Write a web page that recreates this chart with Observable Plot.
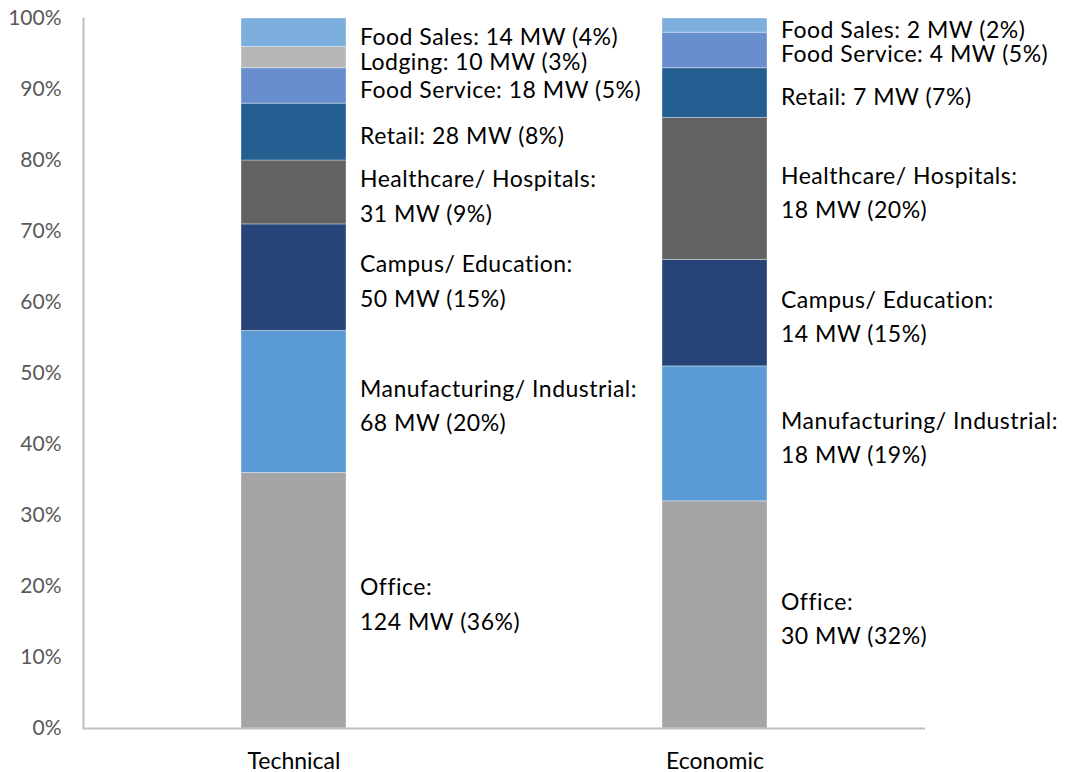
<!DOCTYPE html>
<html>
<head>
<meta charset="utf-8">
<script src="https://cdn.jsdelivr.net/npm/d3@7"></script>
<script src="https://cdn.jsdelivr.net/npm/@observablehq/plot@0.6"></script>
<style>
  html, body { margin: 0; padding: 0; background: #fff; }
  svg { display: block; }
  .seg-label text { letter-spacing: 0.5px; }
</style>
</head>
<body>
<div id="chart"></div>
<script>
// Scenarios (x categories)
const scenarios = ["Technical", "Economic"];
// Sectors, bottom to top
const sectors = ["Office", "Manufacturing/ Industrial", "Campus/ Education", "Healthcare/ Hospitals", "Retail", "Food Service", "Lodging", "Food Sales"];
// Whether a sector's label is broken over two lines
const twoLine = [true, true, true, true, false, false, false, false];
// Capacity (MW) per sector
const technicalMW = [124, 68, 50, 31, 28, 18, 10, 14];
const economicMW  = [30, 18, 14, 18, 7, 4, 0, 2];
// Share (%) per sector, as labelled
const technicalPct = [36, 20, 15, 9, 8, 5, 3, 4];
const economicPct  = [32, 19, 15, 20, 7, 5, 0, 2];
// Sector colours
const colors = ["#A5A5A5", "#5B9BD5", "#264478", "#636363", "#255E91", "#698ED0", "#B7B7B7", "#7CAFDD"];
const yTicks = [0, 10, 20, 30, 40, 50, 60, 70, 80, 90, 100];

const mw = {Technical: technicalMW, Economic: economicMW};
const pct = {Technical: technicalPct, Economic: economicPct};
const rows = [];
for (const s of scenarios) {
  sectors.forEach((sec, i) => {
    const m = mw[s][i], p = pct[s][i];
    if (m <= 0) return;
    rows.push({
      scenario: s, sector: sec, mw: m, pct: p,
      label: twoLine[i] ? `${sec}:\n${m} MW (${p}%)` : `${sec}: ${m} MW (${p}%)`
    });
  });
}

const font = "Lato, 'Open Sans', sans-serif";

const chart = Plot.plot({
  width: 1069,
  height: 772,
  marginLeft: 83,
  marginRight: 144,
  marginTop: 18,
  marginBottom: 44,
  style: {fontFamily: font, background: "#fff", overflow: "visible"},
  x: {domain: scenarios, paddingInner: 0.75, paddingOuter: 0.375, label: null},
  y: {domain: [0, 100], label: null},
  color: {domain: sectors, range: colors},
  marks: [
    Plot.axisY({ticks: yTicks, tickFormat: d => d + "%", tickSize: 0, tickPadding: 22, fontSize: 21, fill: "#595959", label: null}),
    Plot.axisX({tickSize: 0, tickPadding: 24, fontSize: 23, fill: "#000", label: null}),
    Plot.barY(rows, Plot.stackY({order: sectors, x: "scenario", y: "pct", z: "sector", fill: "sector", stroke: "#fff", strokeOpacity: 0.35, strokeWidth: 1})),
    Plot.text(rows, Plot.stackY({order: sectors, x: "scenario", y: "pct", z: "sector", text: "label", textAnchor: "start", dx: 66, dy: 1, fontSize: 23, lineHeight: 1.5, fill: "#000", className: "seg-label"})),
    Plot.frame({anchor: "left", stroke: "#BFBFBF", strokeWidth: 2}),
    Plot.ruleY([0], {stroke: "#BFBFBF", strokeWidth: 2})
  ]
});
document.getElementById("chart").appendChild(chart);
</script>
</body>
</html>
